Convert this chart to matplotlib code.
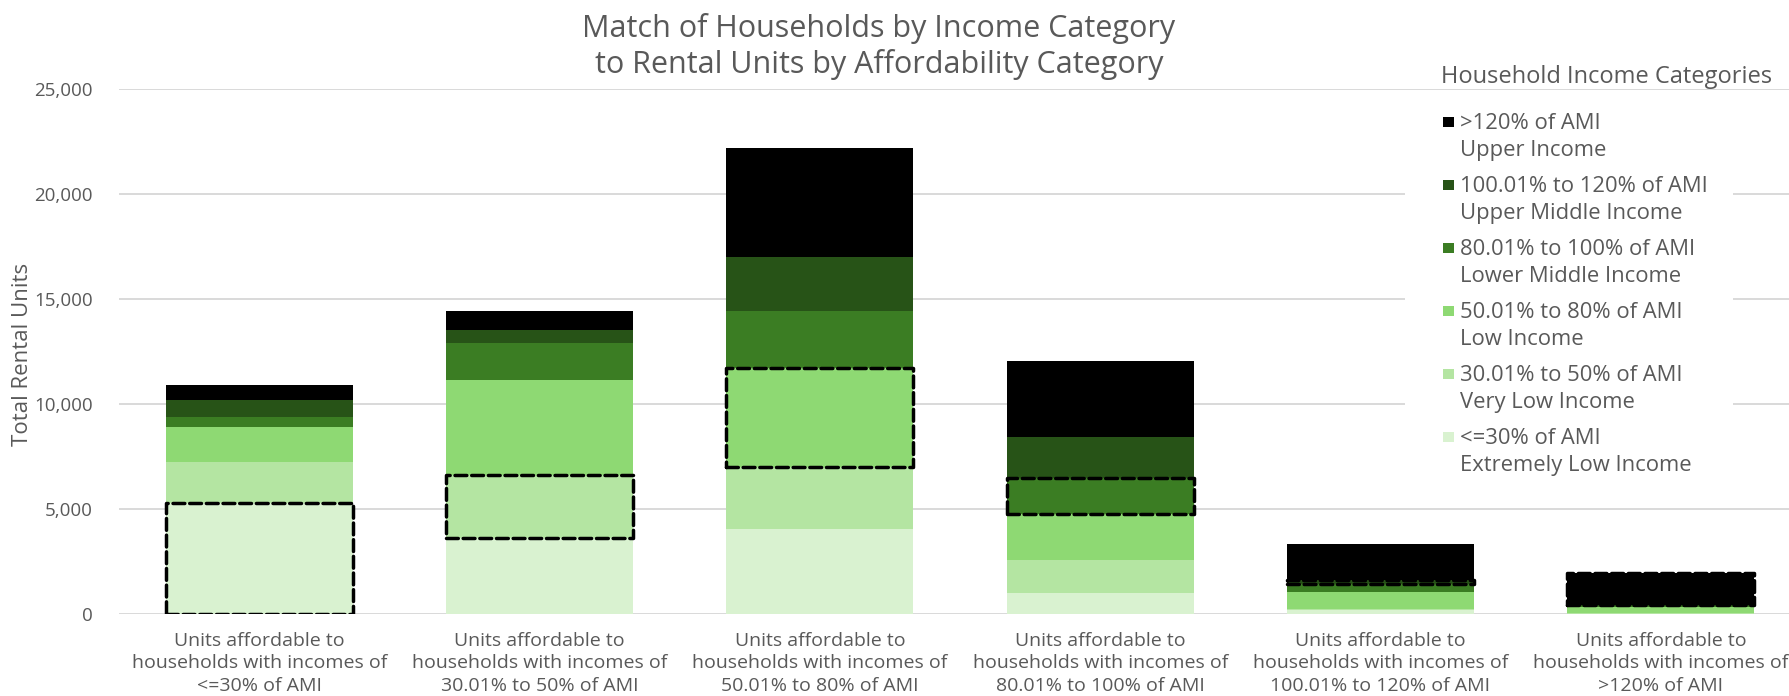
import matplotlib
matplotlib.use("Agg")
import matplotlib.pyplot as plt
from matplotlib.patches import Rectangle
import numpy as np

# Affordability categories of rental units (x axis)
unit_categories = [
    "Units affordable to\nhouseholds with incomes of\n<=30% of AMI",
    "Units affordable to\nhouseholds with incomes of\n30.01% to 50% of AMI",
    "Units affordable to\nhouseholds with incomes of\n50.01% to 80% of AMI",
    "Units affordable to\nhouseholds with incomes of\n80.01% to 100% of AMI",
    "Units affordable to\nhouseholds with incomes of\n100.01% to 120% of AMI",
    "Units affordable to\nhouseholds with incomes of\n>120% of AMI",
]

# Households occupying those units, by household income category
extremely_low = [5290, 3630, 4040, 1020, 200, 20]
very_low = [1950, 2980, 2960, 1540, 50, 40]
low = [1650, 4540, 4710, 2190, 810, 250]
lower_middle = [490, 1760, 2740, 1730, 370, 80]
upper_middle = [790, 600, 2540, 1960, 170, 60]
upper = [720, 940, 5200, 3600, 1720, 1480]

series_names = [
    ("<=30% of AMI", "Extremely Low Income"),
    ("30.01% to 50% of AMI", "Very Low Income"),
    ("50.01% to 80% of AMI", "Low Income"),
    ("80.01% to 100% of AMI", "Lower Middle Income"),
    ("100.01% to 120% of AMI", "Upper Middle Income"),
    (">120% of AMI", "Upper Income"),
]
series_values = [extremely_low, very_low, low, lower_middle, upper_middle, upper]
series_colors = ["#D9F2D0", "#B4E5A2", "#8ED973", "#3B7D23", "#275317", "#000000"]

y_ticks = [0, 5000, 10000, 15000, 20000, 25000]

TEXT = "#595959"
FONT = "Open Sans"
W, H = 1789, 696

fig = plt.figure(figsize=(W / 100, H / 100), dpi=100)
fig.patch.set_facecolor("white")


def fx(x):
    return x / W


def fy(y):
    return 1 - y / H


# plot area in pixel units; the right edge runs past the canvas
left, top, right, bottom = 119, 89, 1801, 614
ax = fig.add_axes([fx(left), fy(bottom), fx(right) - fx(left), fy(top) - fy(bottom)])

x = np.arange(len(unit_categories))
bar_w = 0.667
base = np.zeros(len(unit_categories))
bottoms = []
for vals, col in zip(series_values, series_colors):
    vals = np.array(vals, dtype=float)
    ax.bar(x, vals, bar_w, bottom=base, color=col, linewidth=0, zorder=3)
    bottoms.append(base.copy())
    base = base + vals

# dashed outline on the segment where household income matches unit affordability
for i in range(len(unit_categories)):
    ax.bar(x[i], series_values[i][i], bar_w, bottom=bottoms[i][i], fill=False,
           edgecolor="black", linewidth=2.5, linestyle=(0, (3.4, 1.4)),
           joinstyle="round", capstyle="round", zorder=4)

ax.set_xlim(-0.5, len(unit_categories) - 0.5)
ax.set_ylim(0, 25000)
ax.set_yticks(y_ticks)
ax.set_yticklabels([f"{v:,}" for v in y_ticks])
ax.set_xticks(x)
ax.set_xticklabels(unit_categories)
ax.yaxis.grid(True, color="#D9D9D9", linewidth=1.4, zorder=0)
ax.set_axisbelow(True)
for s in ax.spines.values():
    s.set_visible(False)
ax.tick_params(axis="both", length=0)
ax.tick_params(axis="y", pad=19, labelsize=13.5, labelcolor=TEXT)
ax.tick_params(axis="x", pad=13, labelsize=14, labelcolor=TEXT)
for lab in ax.get_xticklabels() + ax.get_yticklabels():
    lab.set_fontfamily(FONT)
for lab in ax.get_xticklabels():
    lab.set_linespacing(1.31)

fig.text(fx(23), fy(354), "Total Rental Units", rotation=90, ha="center", va="center",
         fontsize=16, color=TEXT, family=FONT)

# two-line chart title
title_lines = ["Match of Households by Income Category", "to Rental Units by Affordability Category"]
for line, base_y in zip(title_lines, [36.7, 72.7]):
    fig.text(fx(879), fy(base_y), line, ha="center", va="baseline",
             fontsize=22, color=TEXT, family=FONT)

# legend panel
fig.patches.append(Rectangle((fx(1405), fy(492)), fx(1733) - fx(1405), fy(100) - fy(492),
                             transform=fig.transFigure, facecolor="white", edgecolor="none", zorder=5))
fig.text(fx(1441), fy(83.3), "Household Income Categories", ha="left", va="baseline",
         fontsize=17, color=TEXT, family=FONT, zorder=6)
for k, ((l1, l2), col) in enumerate(zip(series_names[::-1], series_colors[::-1])):
    b1 = 129 + 63 * k
    fig.patches.append(Rectangle((fx(1443), fy(b1 - 1.7)), fx(11), 10.6 / H,
                                 transform=fig.transFigure, facecolor=col, edgecolor="none", zorder=6))
    fig.text(fx(1460), fy(b1), l1, ha="left", va="baseline", fontsize=15.8, color=TEXT,
             family=FONT, zorder=6)
    fig.text(fx(1460), fy(b1 + 27), l2, ha="left", va="baseline", fontsize=15.8, color=TEXT,
             family=FONT, zorder=6)

fig.savefig("out.png", dpi=100, facecolor="white")
